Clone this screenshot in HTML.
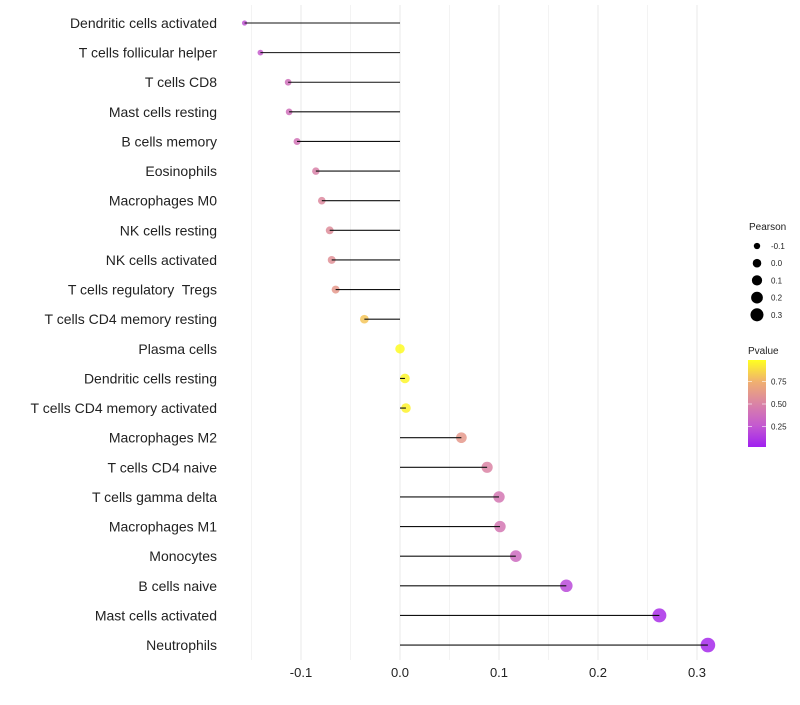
<!DOCTYPE html>
<html><head><meta charset="utf-8"><style>
body{margin:0;background:#fff;font-family:"Liberation Sans",sans-serif}
</style></head><body>
<svg id="c" width="800" height="700" xmlns="http://www.w3.org/2000/svg"></svg>
<script>
const categories=["Dendritic cells activated","T cells follicular helper","T cells CD8","Mast cells resting","B cells memory","Eosinophils","Macrophages M0","NK cells resting","NK cells activated","T cells regulatory\u00a0 Tregs","T cells CD4 memory resting","Plasma cells","Dendritic cells resting","T cells CD4 memory activated","Macrophages M2","T cells CD4 naive","T cells gamma delta","Macrophages M1","Monocytes","B cells naive","Mast cells activated","Neutrophils"];
const pearson=[-0.157,-0.141,-0.113,-0.112,-0.104,-0.085,-0.079,-0.071,-0.069,-0.065,-0.036,0.0,0.005,0.006,0.062,0.088,0.1,0.101,0.117,0.168,0.262,0.311];
const pvalues=[0.22,0.27,0.38,0.38,0.4,0.48,0.53,0.55,0.57,0.62,0.82,0.99,0.97,0.96,0.62,0.5,0.42,0.42,0.35,0.18,0.06,0.04];
const xTicks=[-0.1,0.0,0.1,0.2,0.3];
const xTickLabels=["-0.1","0.0","0.1","0.2","0.3"];
const sizeBreaks=[-0.1,0.0,0.1,0.2,0.3];
const pBreaks=[0.25,0.5,0.75];

const NS="http://www.w3.org/2000/svg";
const svg=document.getElementById('c');
const x=v=>400+v*990;
const y=i=>23+i*29.62;
const r=v=>Math.sqrt(Math.max(2.5,22.5+100*v));
const stops=[[0,[160,32,240]],[0.25,[196,90,208]],[0.5,[218,132,165]],[0.75,[240,176,112]],[1,[255,255,32]]];
function col(p){for(let k=0;k<stops.length-1;k++){const [a,ca]=stops[k],[b,cb]=stops[k+1];if(p<=b){const t=(p-a)/(b-a);return 'rgb('+ca.map((c,j)=>Math.round(c+(cb[j]-c)*t)).join(',')+')';}}return 'rgb(255,255,32)';}
function el(t,a,parent){const e=document.createElementNS(NS,t);for(const k in a)e.setAttribute(k,a[k]);(parent||svg).appendChild(e);return e;}

for(let v=-0.15;v<=0.31;v+=0.05){const e=el('line',{x1:x(v),x2:x(v),y1:5,y2:660,stroke:'#ebebeb','stroke-width':(Math.abs(Math.round(v*100))%10===0)?1.1:0.6});

}
xTicks.forEach((v,i)=>{const t=el('text',{x:x(v),y:677,'text-anchor':'middle','font-size':13,fill:'#222'});t.textContent=xTickLabels[i];

});
categories.forEach((c,i)=>{
const t=el('text',{x:217,y:y(i)+5,'text-anchor':'end','font-size':14,fill:'#222'});t.textContent=c;


const p=el('circle',{cx:x(pearson[i]),cy:y(i),r:r(pearson[i]),fill:col(pvalues[i]),'fill-opacity':0.85});


const l=el('line',{x1:x(0),x2:x(pearson[i]),y1:y(i),y2:y(i),stroke:'#111','stroke-width':1.1});


});
const lt=el('text',{x:749,y:230,'font-size':10,fill:'#222'});lt.textContent='Pearson';


sizeBreaks.forEach((v,i)=>{const cy=246+i*17.2;
const c=el('circle',{cx:757,cy:cy,r:r(v)*0.9,fill:'#000'});


const t=el('text',{x:771,y:cy+3,'font-size':8,fill:'#222'});t.textContent=v.toFixed(1);

});
const ct=el('text',{x:748,y:354,'font-size':10,fill:'#222'});ct.textContent='Pvalue';


const defs=el('defs',{});const g=el('linearGradient',{id:'pg',x1:0,y1:1,x2:0,y2:0},defs);
stops.forEach(s=>el('stop',{offset:s[0],'stop-color':col(s[0])},g));
const bar=el('rect',{x:748,y:360,width:18,height:87,fill:'url(#pg)'});


pBreaks.forEach(v=>{const yy=449-v*90;
el('line',{x1:748,x2:752,y1:yy,y2:yy,stroke:'#fff','stroke-opacity':0.6});
el('line',{x1:762,x2:766,y1:yy,y2:yy,stroke:'#fff','stroke-opacity':0.6});
const t=el('text',{x:771,y:yy+3,'font-size':8,fill:'#222'});t.textContent=v.toFixed(2);

});
</script>
</body></html>
